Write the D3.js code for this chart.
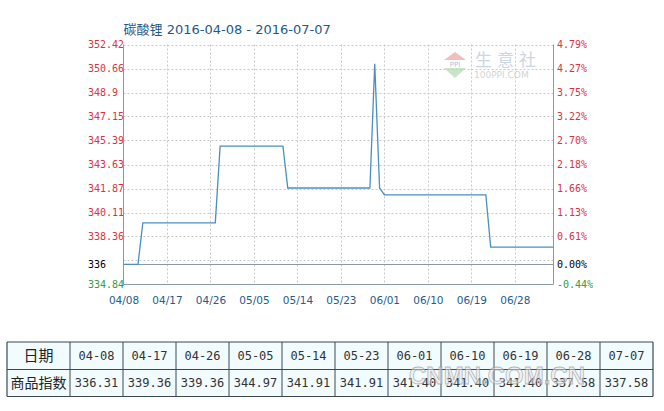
<!DOCTYPE html>
<html><head><meta charset="utf-8">
<script src="https://d3js.org/d3.v7.min.js"></script>
<style>
html,body{margin:0;padding:0;background:#fff;}
svg{display:block;}
</style></head>
<body>
<svg id="chart" width="664" height="411"></svg>
<script>
// ---- data ----
const titleText = "碳酸锂 2016-04-08 - 2016-07-07";
const lineDates = ["2016-04-08","2016-04-11","2016-04-12","2016-04-27","2016-04-28","2016-05-11","2016-05-12","2016-05-29","2016-05-30","2016-05-31","2016-06-01","2016-06-22","2016-06-23","2016-07-06"];
const lineValues = [336.31,336.31,339.36,339.36,344.97,344.97,341.91,341.91,351.0,341.91,341.40,341.40,337.58,337.58];
const baseValue = 336.31;
const gridValues = [334.84,336.60,338.36,340.11,341.87,343.63,345.39,347.15,348.90,350.66,352.42];
const leftLabels = ["334.84","","338.36","340.11","341.87","343.63","345.39","347.15","348.9","350.66","352.42"];
const rightLabels = ["-0.44%","","0.61%","1.13%","1.66%","2.18%","2.70%","3.22%","3.75%","4.27%","4.79%"];
const baseLeftLabel = "336";
const baseRightLabel = "0.00%";
const xTickDates = ["2016-04-08","2016-04-17","2016-04-26","2016-05-05","2016-05-14","2016-05-23","2016-06-01","2016-06-10","2016-06-19","2016-06-28"];
const xTickLabels = ["04/08","04/17","04/26","05/05","05/14","05/23","06/01","06/10","06/19","06/28"];
const tableDates = ["04-08","04-17","04-26","05-05","05-14","05-23","06-01","06-10","06-19","06-28","07-07"];
const tableValues = ["336.31","339.36","339.36","344.97","341.91","341.91","341.40","341.40","341.40","337.58","337.58"];
const tableHead = ["日期","商品指数"];

// ---- layout ----
const L = 123.5, R = 553.5, T = 44.5, B = 284.5;
const parse = d3.timeParse("%Y-%m-%d");
const svg = d3.select("#chart");
const x = d3.scaleTime().domain([parse("2016-04-08"), parse("2016-07-06")]).range([L, R]);
const y = d3.scaleLinear().domain([334.84, 352.42]).range([B, T]);

const mono = "'DejaVu Sans Mono', 'Liberation Mono', monospace";
const sans = "'DejaVu Sans', 'Noto Sans CJK SC', sans-serif";
const red = "#d6353d", green = "#3b9a3b";

// title
svg.append("text").attr("x", L).attr("y", 34)
  .attr("font-family", "'DejaVu Sans','Noto Sans CJK SC',sans-serif").attr("font-size", 13)
  .attr("fill", "#1d5a8a").text(titleText);

// watermark logo
const wm = svg.append("g").attr("opacity", 0.55);
wm.append("path").attr("d", "M455,52 L466,60 L444,60 Z").attr("fill", "#e88a8a");
wm.append("path").attr("d", "M444,68 L466,68 L455,78 Z").attr("fill", "#9ad39a");
wm.append("text").attr("x", 455).attr("y", 67).attr("text-anchor", "middle").attr("font-size", 7)
  .attr("font-family", sans).attr("fill", "#6a8fb0").text("PPI");
wm.append("text").attr("x", 475).attr("y", 66).attr("font-size", 17).attr("letter-spacing", 5)
  .attr("font-family", "'Noto Sans CJK SC',sans-serif").attr("fill", "#9fb6cc").text("生意社");
wm.append("text").attr("x", 474).attr("y", 78).attr("font-size", 9)
  .attr("font-family", sans).attr("fill", "#b0b0b0").text("100PPI.COM");

// horizontal grid
svg.append("g").selectAll("line").data(gridValues.slice(1)).join("line")
  .attr("x1", L).attr("x2", R)
  .attr("y1", d => Math.round(y(d)) + 0.5).attr("y2", d => Math.round(y(d)) + 0.5)
  .attr("stroke", "#c8c8c8").attr("stroke-dasharray", "2,2");
// vertical grid
svg.append("g").selectAll("line").data(xTickDates.slice(1)).join("line")
  .attr("x1", d => Math.round(x(parse(d))) + 0.5).attr("x2", d => Math.round(x(parse(d))) + 0.5)
  .attr("y1", T).attr("y2", B)
  .attr("stroke", "#c8c8c8").attr("stroke-dasharray", "2,2");

// base line
svg.append("line").attr("x1", L).attr("x2", R)
  .attr("y1", Math.round(y(baseValue)) + 0.5).attr("y2", Math.round(y(baseValue)) + 0.5)
  .attr("stroke", "#8a9aa4").attr("stroke-width", 1);

// frame (left, right, bottom)
svg.append("path").attr("d", `M${L},${T}V${B}H${R}V${T}`)
  .attr("fill", "none").attr("stroke", "#8a9aa4").attr("stroke-width", 1);

// left labels
const gl = svg.append("g").attr("font-family", mono).attr("font-size", 10);
gridValues.forEach((v, i) => {
  if (!leftLabels[i]) return;
  gl.append("text").attr("x", 88).attr("y", y(v)).attr("dy", "0.35em")
    .attr("fill", i === 0 ? green : red).text(leftLabels[i]);
  gl.append("text").attr("x", 557).attr("y", y(v)).attr("dy", "0.35em")
    .attr("fill", i === 0 ? green : red).text(rightLabels[i]);
});
gl.append("text").attr("x", 88).attr("y", y(baseValue)).attr("dy", "0.35em").attr("fill", "#000").text(baseLeftLabel);
gl.append("text").attr("x", 557).attr("y", y(baseValue)).attr("dy", "0.35em").attr("fill", "#000").text(baseRightLabel);

// x labels
const xAxis = d3.axisBottom(x).tickValues(xTickDates.map(parse))
  .tickFormat((d, i) => xTickLabels[i]).tickSize(0).tickPadding(12);
const xg = svg.append("g").attr("transform", `translate(0,${B})`).call(xAxis);
xg.select(".domain").remove();
xg.selectAll("text").attr("font-family", sans).attr("font-size", 10.5).attr("fill", "#235d8c");

// line
const line = d3.line().x((d, i) => x(parse(lineDates[i]))).y(d => y(d));
svg.append("path").datum(lineValues).attr("d", line)
  .attr("fill", "none").attr("stroke", "#4a8fbf").attr("stroke-width", 1.3);

// table
const tL = 7, tR = 653, tT = 342, tM = 369.5, tB = 396.5, c0 = 70;
const cw = (tR - c0) / tableDates.length;
const tg = svg.append("g");
tg.append("rect").attr("x", tL).attr("y", tT).attr("width", tR - tL).attr("height", tB - tT).attr("fill", "#f2fbfe");
[tT, tM, tB].forEach(yy => tg.append("line").attr("x1", tL).attr("x2", tR).attr("y1", yy).attr("y2", yy).attr("stroke", "#3a4a50").attr("stroke-width", 1.2));
const cols = [tL, c0].concat(tableDates.map((d, i) => c0 + cw * (i + 1)));
cols.forEach((xx, i) => tg.append("line").attr("x1", xx).attr("x2", xx).attr("y1", tT).attr("y2", tB).attr("stroke", "#3a4a50").attr("stroke-width", i === 0 || i === cols.length - 1 ? 1.2 : 1));
tg.append("text").attr("x", (tL + c0) / 2).attr("y", (tT + tM) / 2).attr("dy", "0.35em").attr("text-anchor", "middle")
  .attr("font-family", "'Noto Sans CJK SC',sans-serif").attr("font-size", 15).attr("fill", "#222").text(tableHead[0]);
tg.append("text").attr("x", (tL + c0) / 2).attr("y", (tM + tB) / 2).attr("dy", "0.35em").attr("text-anchor", "middle")
  .attr("font-family", "'Noto Sans CJK SC',sans-serif").attr("font-size", 14).attr("fill", "#222").text(tableHead[1]);
tableDates.forEach((d, i) => {
  const cx = c0 + cw * (i + 0.5);
  tg.append("text").attr("x", cx).attr("y", (tT + tM) / 2).attr("dy", "0.35em").attr("text-anchor", "middle")
    .attr("font-family", mono).attr("font-size", 12).attr("fill", "#333").text(d);
  tg.append("text").attr("x", cx).attr("y", (tM + tB) / 2).attr("dy", "0.35em").attr("text-anchor", "middle")
    .attr("font-family", mono).attr("font-size", 12).attr("fill", "#333").text(tableValues[i]);
});
// watermark over table
svg.append("text").attr("x", 497).attr("y", 384).attr("text-anchor", "middle")
  .attr("font-family", "'Liberation Sans',Arial,sans-serif").attr("font-weight", "bold").attr("font-size", 24)
  .attr("fill", "#e8e8e8").attr("fill-opacity", 0.5).attr("stroke", "#9a9a9a").attr("stroke-width", 0.8)
  .attr("stroke-opacity", 0.7).text("CNMN.COM.CN");
</script>
</body></html>
